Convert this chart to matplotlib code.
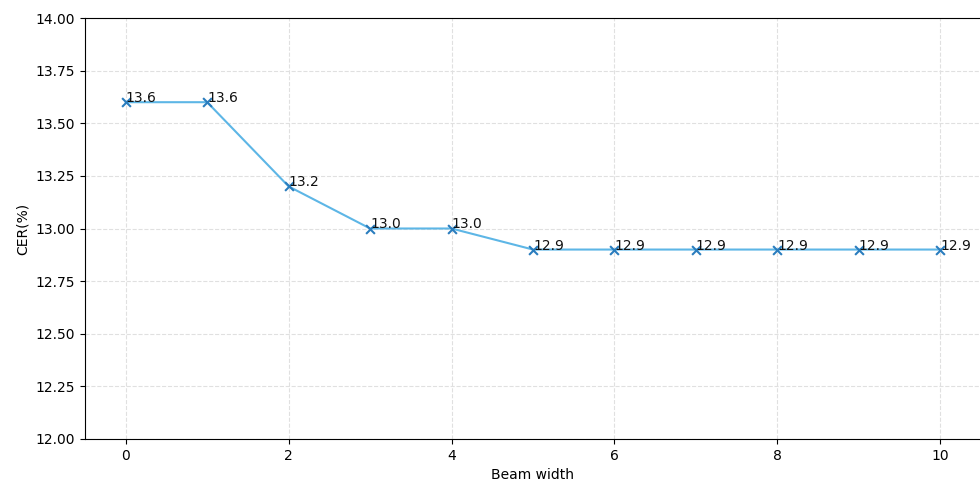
import matplotlib
matplotlib.use('Agg')
import matplotlib.pyplot as plt

beam_width = [0, 1, 2, 3, 4, 5, 6, 7, 8, 9, 10]
cer = [13.6, 13.6, 13.2, 13.0, 13.0, 12.9, 12.9, 12.9, 12.9, 12.9, 12.9]

fig = plt.figure(figsize=(9.8, 4.82), dpi=100)
ax = fig.add_axes([85 / 980, 1 - 439 / 482, 1 - 85 / 980 + 0.001, (439 - 18) / 482])
ax.plot(beam_width, cer, color='#5DB6E6', linewidth=1.5, zorder=2)
ax.scatter(beam_width, cer, marker='x', color='#2A7DBE', s=40, zorder=3)
for x, y in zip(beam_width, cer):
    ax.text(x, y, '%.1f' % y, fontsize=10, color='#111111')
ax.set_xlim(-0.5, 10.5)
ax.set_ylim(12, 14)
ax.set_xlabel('Beam width')
ax.set_ylabel('CER(%)')
ax.grid(True, linestyle='--', color='#e0e0e0', linewidth=0.8)
fig.savefig('out.png', dpi=100)
